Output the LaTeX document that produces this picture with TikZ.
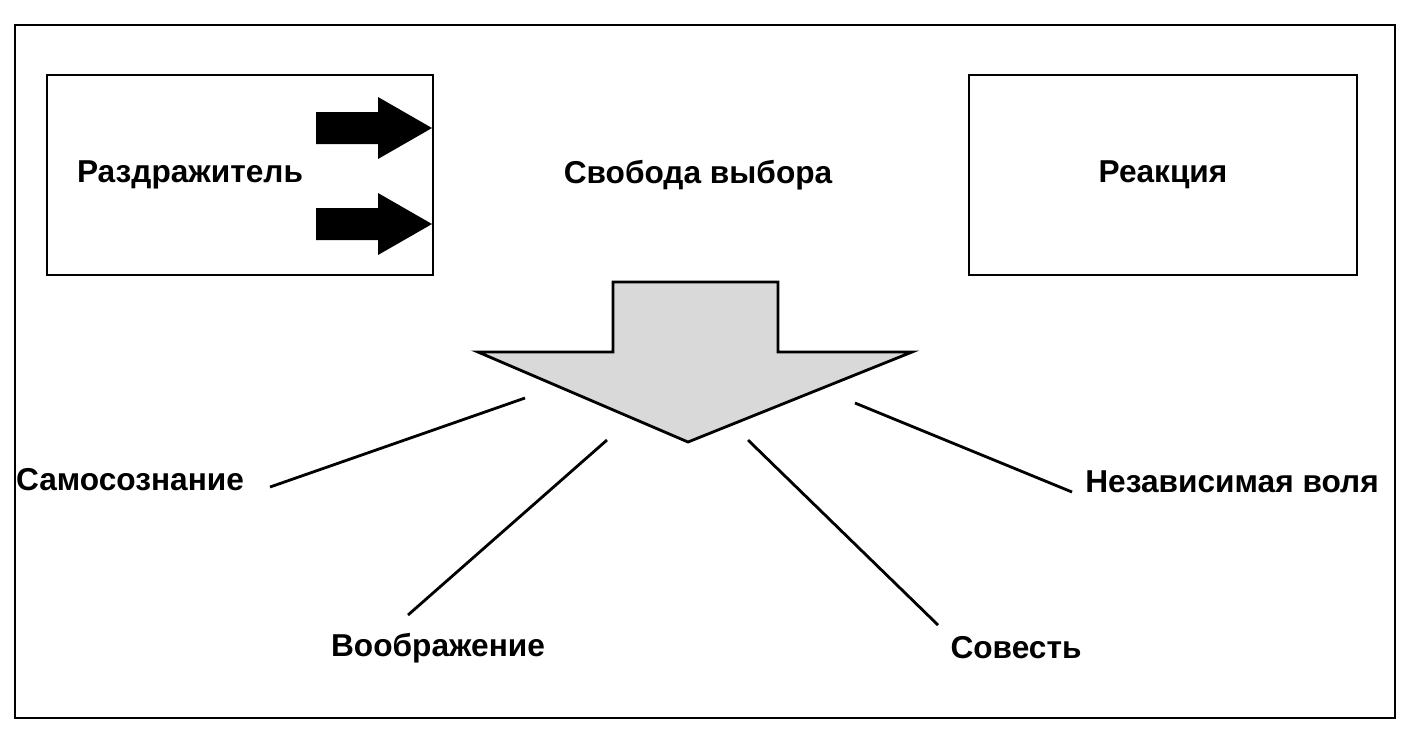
\documentclass[tikz,border=0pt]{standalone}
\usepackage{fontspec}
\setmainfont{Liberation Sans}
\usetikzlibrary{positioning}
\begin{document}
\begin{tikzpicture}[x=0.01cm, y=-0.01cm,
    box/.style={draw, line width=0.8pt},
    label/.style={font=\fontsize{9}{11}\selectfont\bfseries},
    link/.style={line width=0.8pt},
    blockarrow/.style={fill=black}
]
\useasboundingbox (0,0) rectangle (1410,732);
\draw[line width=0.8pt] (15,25) rectangle (1395,718);

% boxes
\draw[box] (47,75) rectangle (433,275);
\draw[box] (969,75) rectangle (1357,275);
\node[label] (stimulus) at (190,175) {Раздражитель};
\node[label] (choice) at (698,175) {Свобода выбора};
\node[label] (response) at (1163,175) {Реакция};

% black arrows
\foreach \yc in {128,224}
  \fill[blockarrow] (316,\yc-16) -- (378,\yc-16) -- (378,\yc-31) -- (432,\yc)
    -- (378,\yc+31) -- (378,\yc+16) -- (316,\yc+16) -- cycle;

% big arrow
\draw[fill=black!15, line width=0.8pt] (613,282) -- (778,282) -- (778,352) -- (912,352)
  -- (688,442) -- (478,352) -- (613,352) -- cycle;

% qualities
\node[label] (self) at (130,480) {Самосознание};
\node[label] (imag) at (438,648) {Воображение};
\node[label] (consc) at (1016,648) {Совесть};
\node[label] (will) at (1232,482) {Независимая воля};

\coordinate (s1) at (525,398); \coordinate (s2) at (270,487);
\coordinate (i1) at (607,440); \coordinate (i2) at (408,615);
\coordinate (c1) at (748,440); \coordinate (c2) at (938,625);
\coordinate (w1) at (855,403); \coordinate (w2) at (1072,492);
\draw[link] (s1) -- (s2);
\draw[link] (i1) -- (i2);
\draw[link] (c1) -- (c2);
\draw[link] (w1) -- (w2);
\end{tikzpicture}
\end{document}
